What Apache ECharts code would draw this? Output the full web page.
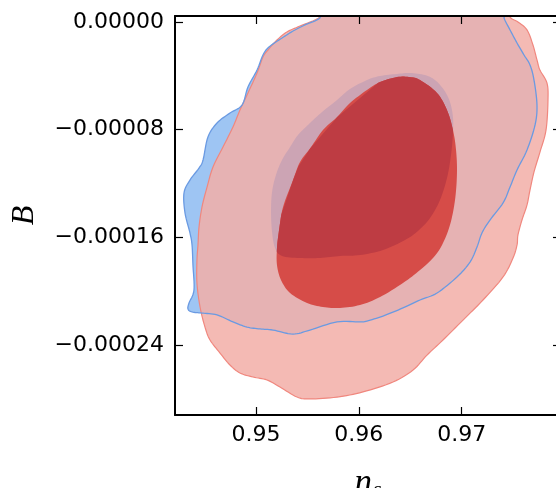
<!DOCTYPE html>
<html>
<head>
<meta charset="utf-8">
<script src="https://cdn.jsdelivr.net/npm/echarts@6/dist/echarts.min.js"></script>
<style>html,body{margin:0;padding:0;background:#fff}#c{width:556px;height:488px}</style>
</head>
<body>
<div id="c"></div>
<script>
// Axis ranges and tick labels
const nsRange = [0.9421244, 0.9796552];
const bRange = [-0.0002919204, 0.0000044568];
const nsTicks = [0.95, 0.96, 0.97];
const bTicks = [0, -0.00008, -0.00016, -0.00024];

// Contours: [n_s, B]
const blueOuter = [
 [0.95720,0.0000126],[0.95622,0.0000030],[0.95476,-0.0000022],[0.95360,-0.0000067],[0.95253,-0.0000119],
 [0.95126,-0.0000186],[0.95068,-0.0000245],[0.95010,-0.0000357],[0.94922,-0.0000483],[0.94864,-0.0000617],
 [0.94747,-0.0000676],[0.94621,-0.0000750],[0.94533,-0.0000854],[0.94485,-0.0001025],[0.94446,-0.0001085],
 [0.94358,-0.0001174],[0.94300,-0.0001270],[0.94310,-0.0001419],[0.94358,-0.0001567],[0.94378,-0.0001656],
 [0.94387,-0.0001805],[0.94397,-0.0001991],[0.94349,-0.0002087],[0.94339,-0.0002132],[0.94378,-0.0002154],
 [0.94475,-0.0002162],[0.94621,-0.0002176],[0.94776,-0.0002228],[0.94912,-0.0002266],[0.95039,-0.0002280],
 [0.95165,-0.0002288],[0.95360,-0.0002318],[0.95525,-0.0002288],[0.95788,-0.0002228],[0.96011,-0.0002228],
 [0.96079,-0.0002221],[0.96235,-0.0002184],[0.96429,-0.0002124],[0.96595,-0.0002065],[0.96760,-0.0002013],
 [0.96954,-0.0001894],[0.97081,-0.0001783],[0.97149,-0.0001671],[0.97197,-0.0001567],[0.97275,-0.0001471],
 [0.97402,-0.0001344],[0.97470,-0.0001226],[0.97538,-0.0001099],[0.97635,-0.0000951],[0.97713,-0.0000765],
 [0.97732,-0.0000617],[0.97703,-0.0000431],[0.97664,-0.0000319],[0.97606,-0.0000245],[0.97538,-0.0000156],
 [0.97470,-0.0000059],[0.97411,0.0000030],[0.97372,0.0000126]
];
const redOuter = [
 [0.95671,0.0000126],[0.95622,0.0000037],[0.95428,-0.0000030],[0.95301,-0.0000074],[0.95204,-0.0000134],
 [0.95117,-0.0000208],[0.95068,-0.0000260],[0.95010,-0.0000379],[0.94922,-0.0000527],[0.94844,-0.0000654],
 [0.94776,-0.0000780],[0.94679,-0.0000929],[0.94582,-0.0001077],[0.94524,-0.0001226],[0.94475,-0.0001374],
 [0.94446,-0.0001523],[0.94436,-0.0001656],[0.94426,-0.0001768],[0.94426,-0.0001939],[0.94456,-0.0002117],
 [0.94504,-0.0002266],[0.94553,-0.0002362],[0.94650,-0.0002459],[0.94747,-0.0002548],[0.94844,-0.0002607],
 [0.94971,-0.0002637],[0.95107,-0.0002659],[0.95233,-0.0002711],[0.95399,-0.0002786],[0.95525,-0.0002800],
 [0.95788,-0.0002786],[0.96040,-0.0002748],[0.96332,-0.0002674],[0.96527,-0.0002585],[0.96663,-0.0002474],
 [0.96818,-0.0002362],[0.97013,-0.0002214],[0.97207,-0.0002065],[0.97402,-0.0001894],[0.97499,-0.0001753],
 [0.97538,-0.0001656],[0.97547,-0.0001582],[0.97586,-0.0001471],[0.97635,-0.0001359],[0.97664,-0.0001248],
 [0.97703,-0.0001114],[0.97761,-0.0000966],[0.97820,-0.0000802],[0.97839,-0.0000579],[0.97829,-0.0000453],
 [0.97761,-0.0000357],[0.97732,-0.0000282],[0.97693,-0.0000171],[0.97635,-0.0000059],[0.97547,0],
 [0.97470,0.0000037],[0.97421,0.0000126]
];
const blueInner = [
 [0.96497,-0.0000379],[0.96371,-0.0000386],[0.96206,-0.0000401],[0.96079,-0.0000431],[0.95914,-0.0000498],
 [0.95788,-0.0000579],[0.95642,-0.0000669],[0.95525,-0.0000750],[0.95408,-0.0000839],[0.95331,-0.0000929],
 [0.95253,-0.0001025],[0.95194,-0.0001136],[0.95156,-0.0001263],[0.95146,-0.0001411],[0.95156,-0.0001560],
 [0.95185,-0.0001679],[0.95253,-0.0001738],[0.95428,-0.0001753],[0.95622,-0.0001753],[0.95817,-0.0001738],
 [0.96011,-0.0001731],[0.96235,-0.0001694],[0.96449,-0.0001619],[0.96575,-0.0001552],[0.96692,-0.0001456],
 [0.96789,-0.0001322],[0.96857,-0.0001159],[0.96896,-0.0000988],[0.96915,-0.0000825],[0.96915,-0.0000706],
 [0.96886,-0.0000594],[0.96828,-0.0000505],[0.96740,-0.0000431],[0.96643,-0.0000394]
];
const redInner = [
 [0.95204,-0.0001679],[0.95224,-0.0001545],[0.95263,-0.0001374],[0.95360,-0.0001174],[0.95428,-0.0001040],
 [0.95535,-0.0000929],[0.95651,-0.0000802],[0.95788,-0.0000706],[0.95914,-0.0000602],[0.96079,-0.0000505],
 [0.96206,-0.0000446],[0.96371,-0.0000409],[0.96497,-0.0000409],[0.96595,-0.0000431],[0.96760,-0.0000527],
 [0.96857,-0.0000654],[0.96915,-0.0000802],[0.96945,-0.0000951],[0.96954,-0.0001122],[0.96935,-0.0001322],
 [0.96886,-0.0001508],[0.96809,-0.0001656],[0.96721,-0.0001753],[0.96595,-0.0001842],[0.96429,-0.0001939],
 [0.96206,-0.0002043],[0.96011,-0.0002102],[0.95817,-0.0002124],[0.95651,-0.0002117],[0.95496,-0.0002087],
 [0.95331,-0.0002013],[0.95243,-0.0001916],[0.95204,-0.0001805]
];

// ---- polygon helpers ----
function smoothClosed(p, n){
  const out=[]; const L=p.length;
  for(let i=0;i<L;i++){
    const p0=p[(i-1+L)%L], p1=p[i], p2=p[(i+1)%L], p3=p[(i+2)%L];
    for(let k=0;k<n;k++){
      const t=k/n, t2=t*t, t3=t2*t;
      const f=(a,b,c,d)=>0.5*((2*b)+(-a+c)*t+(2*a-5*b+4*c-d)*t2+(-a+3*b-3*c+d)*t3);
      out.push([f(p0[0],p1[0],p2[0],p3[0]), f(p0[1],p1[1],p2[1],p3[1])]);
    }
  }
  return out;
}
function signedArea(p){let s=0;for(let i=0;i<p.length;i++){const a=p[i],b=p[(i+1)%p.length];s+=a[0]*b[1]-b[0]*a[1];}return s/2;}
function clipPolygon(subject, clip){
  const sgn = signedArea(clip) > 0 ? 1 : -1;
  const inside=(p,a,b)=>sgn*((b[0]-a[0])*(p[1]-a[1])-(b[1]-a[1])*(p[0]-a[0]))>=0;
  const inter=(p,q,a,b)=>{const A1=q[1]-p[1],B1=p[0]-q[0],C1=A1*p[0]+B1*p[1];const A2=b[1]-a[1],B2=a[0]-b[0],C2=A2*a[0]+B2*a[1];const d=A1*B2-A2*B1;return [(B2*C1-B1*C2)/d,(A1*C2-A2*C1)/d];};
  let out=subject.slice();
  for(let i=0;i<clip.length&&out.length;i++){
    const a=clip[i],b=clip[(i+1)%clip.length];const inp=out;out=[];
    for(let j=0;j<inp.length;j++){
      const cur=inp[j],prev=inp[(j+inp.length-1)%inp.length];
      const ci=inside(cur,a,b),pi=inside(prev,a,b);
      if(ci){if(!pi)out.push(inter(prev,cur,a,b));out.push(cur);}
      else if(pi){out.push(inter(prev,cur,a,b));}
    }
  }
  return out;
}

function polySeries(pts, style, z, clipBy){
  return {
    type:'custom', coordinateSystem:'cartesian2d', xAxisIndex:0, yAxisIndex:0,
    clip:true, silent:true, z:z, animation:false,
    data:[[pts[0][0], pts[0][1]]], encode:{x:0,y:1},
    renderItem:function(params, api){
      let px = smoothClosed(pts.map(p=>api.coord(p)), 8);
      if(clipBy){ px = clipPolygon(px, smoothClosed(clipBy.map(p=>api.coord(p)), 8)); }
      return {type:'polygon', shape:{points:px}, style:style};
    }
  };
}

const chart = echarts.init(document.getElementById('c'), null, {renderer:'canvas'});
const labelFont = {fontFamily:'DejaVu Sans', fontSize:22, color:'#000'};
const tickStyle = {show:true, inside:true, length:8, lineStyle:{color:'#000', width:1.2}};
const lineStyle = {show:true, onZero:false, lineStyle:{color:'#000', width:2}};

chart.setOption({
  animation:false,
  backgroundColor:'#fff',
  grid:{left:175, top:16, width:386, height:399, containLabel:false, outerBoundsMode:'none'},
  xAxis:[
    {type:'value', position:'bottom', min:nsRange[0], max:nsRange[1], z:10,
     axisLine:lineStyle, splitLine:{show:false},
     axisTick:Object.assign({customValues:nsTicks}, tickStyle),
     axisLabel:Object.assign({customValues:nsTicks, margin:9, formatter:v=>v.toFixed(2)}, labelFont),
     name:'{n|n}{s|s}', nameLocation:'middle', nameGap:51,
     nameTextStyle:{rich:{
       n:{fontFamily:'Liberation Serif', fontStyle:'italic', fontSize:35, color:'#000', verticalAlign:'top', lineHeight:40},
       s:{fontFamily:'Liberation Serif', fontStyle:'italic', fontSize:22, color:'#000', verticalAlign:'top', padding:[13,0,0,1]}
     }}},
    {type:'value', position:'top', min:nsRange[0], max:nsRange[1], z:10,
     axisLine:lineStyle, splitLine:{show:false},
     axisTick:Object.assign({customValues:nsTicks}, tickStyle),
     axisLabel:{show:false}}
  ],
  yAxis:[
    {type:'value', position:'left', min:bRange[0], max:bRange[1], z:10,
     axisLine:lineStyle, splitLine:{show:false},
     axisTick:Object.assign({customValues:bTicks}, tickStyle),
     axisLabel:Object.assign({customValues:bTicks, margin:11,
       formatter:v=> (Math.abs(v)<1e-12 ? '0.00000' : '\u2212'+Math.abs(v).toFixed(5))}, labelFont),
     name:'B', nameLocation:'middle', nameGap:134, nameRotate:90,
     nameTextStyle:{fontFamily:'Liberation Serif', fontStyle:'italic', fontSize:32, color:'#000'}},
    {type:'value', position:'right', min:bRange[0], max:bRange[1], z:10,
     axisLine:lineStyle, splitLine:{show:false},
     axisTick:Object.assign({customValues:bTicks}, tickStyle),
     axisLabel:{show:false}}
  ],
  series:[
    polySeries(blueOuter, {fill:'#9ec5f3', stroke:'none', lineWidth:0}, 2),
    polySeries(redOuter, {fill:'rgba(242,174,167,0.85)', stroke:'none', lineWidth:0}, 3),
    polySeries(blueInner, {fill:'#cca4b4', stroke:'none', lineWidth:0}, 4),
    polySeries(redInner, {fill:'#d64c48', stroke:'none', lineWidth:0}, 5),
    polySeries(blueInner, {fill:'#be3c43', stroke:'none', lineWidth:0}, 6, redInner),
    polySeries(redOuter, {fill:'none', stroke:'#f0877e', lineWidth:1.2}, 7),
    polySeries(blueOuter, {fill:'none', stroke:'#6a9ae2', lineWidth:1.3}, 8)
  ]
});
</script>
</body>
</html>
